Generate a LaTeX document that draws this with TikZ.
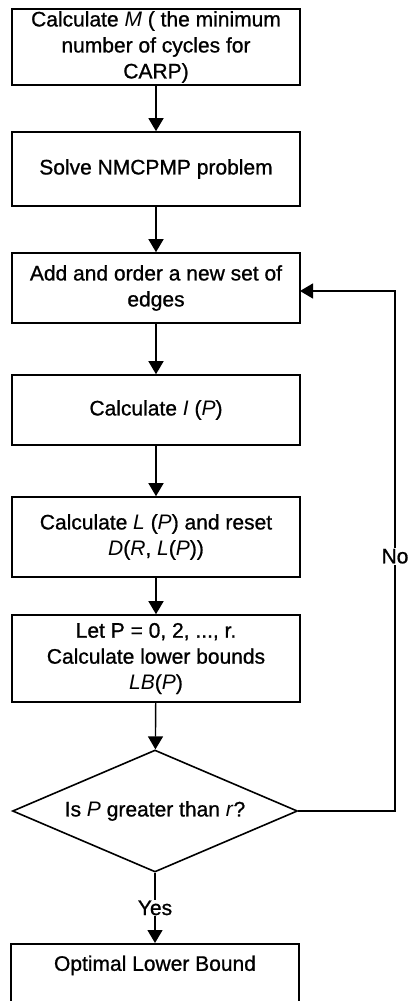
\documentclass[tikz,border=0pt]{standalone}
\usepackage{fontspec}
\setmainfont{Liberation Sans}[AutoFakeBold=0.9]
\usetikzlibrary{arrows.meta,shapes.geometric}
\begin{document}
\begin{tikzpicture}[x=1pt,y=-1pt,
  txt/.style={font=\fontsize{21}{26}\selectfont\bfseries},
  box/.style={txt, draw, line width=1.6pt, minimum width=288pt, inner sep=2pt, align=center},
  dec/.style={txt, draw, line width=1.6pt, shape=diamond, minimum width=285pt, minimum height=122pt, inner sep=0pt, aspect=2.34},
  arr/.style={line width=1.4pt, -{Triangle[width=15pt,length=13pt]}},
  lbl/.style={txt, fill=white, inner sep=1pt}
]
\useasboundingbox (0,0) rectangle (407,1001);
\node[box, minimum height=74pt] (b1) at (156,47) {Calculate \textit{M} ( the minimum\\ number of cycles for\\ CARP)};
\node[box, minimum height=74pt] (b2) at (156,169) {Solve NMCPMP problem};
\node[box, minimum height=70pt] (b3) at (156,288) {Add and order a new set of\\ edges};
\node[box, minimum height=70pt] (b4) at (156,410) {Calculate \textit{I} (\textit{P})};
\node[box, minimum height=80pt] (b5) at (156,537) {Calculate \textit{L} (\textit{P}) and reset\\ \textit{D}(\textit{R}, \textit{L}(\textit{P}))};
\node[box, minimum height=87pt] (b6) at (156,658.5) {Let P = 0, 2, ..., r.\\ Calculate lower bounds\\ \textit{LB}(\textit{P})};
\node[dec] (d) at (155,811) {Is \textit{P} greater than \textit{r}?};
\node[box, anchor=north, minimum height=60pt, text height=25pt, text depth=31pt] (b7) at (155,943) {Optimal Lower Bound};
\coordinate (c1) at (395,811);
\coordinate (c2) at (395,291);
\coordinate (c3) at (300,291);
\draw[arr] (b1) -- (b2);
\draw[arr] (b2) -- (b3);
\draw[arr] (b3) -- (b4);
\draw[arr] (b4) -- (b5);
\draw[arr] (b5) -- (b6);
\draw[arr] (b6) -- (d);
\draw[arr] (d.south) -- node[lbl] {Yes} (b7.north);
\draw[arr] (d.east) -- (c1) -- node[lbl, pos=0.49] {No} (c2) -- (c3);
\end{tikzpicture}
\end{document}
